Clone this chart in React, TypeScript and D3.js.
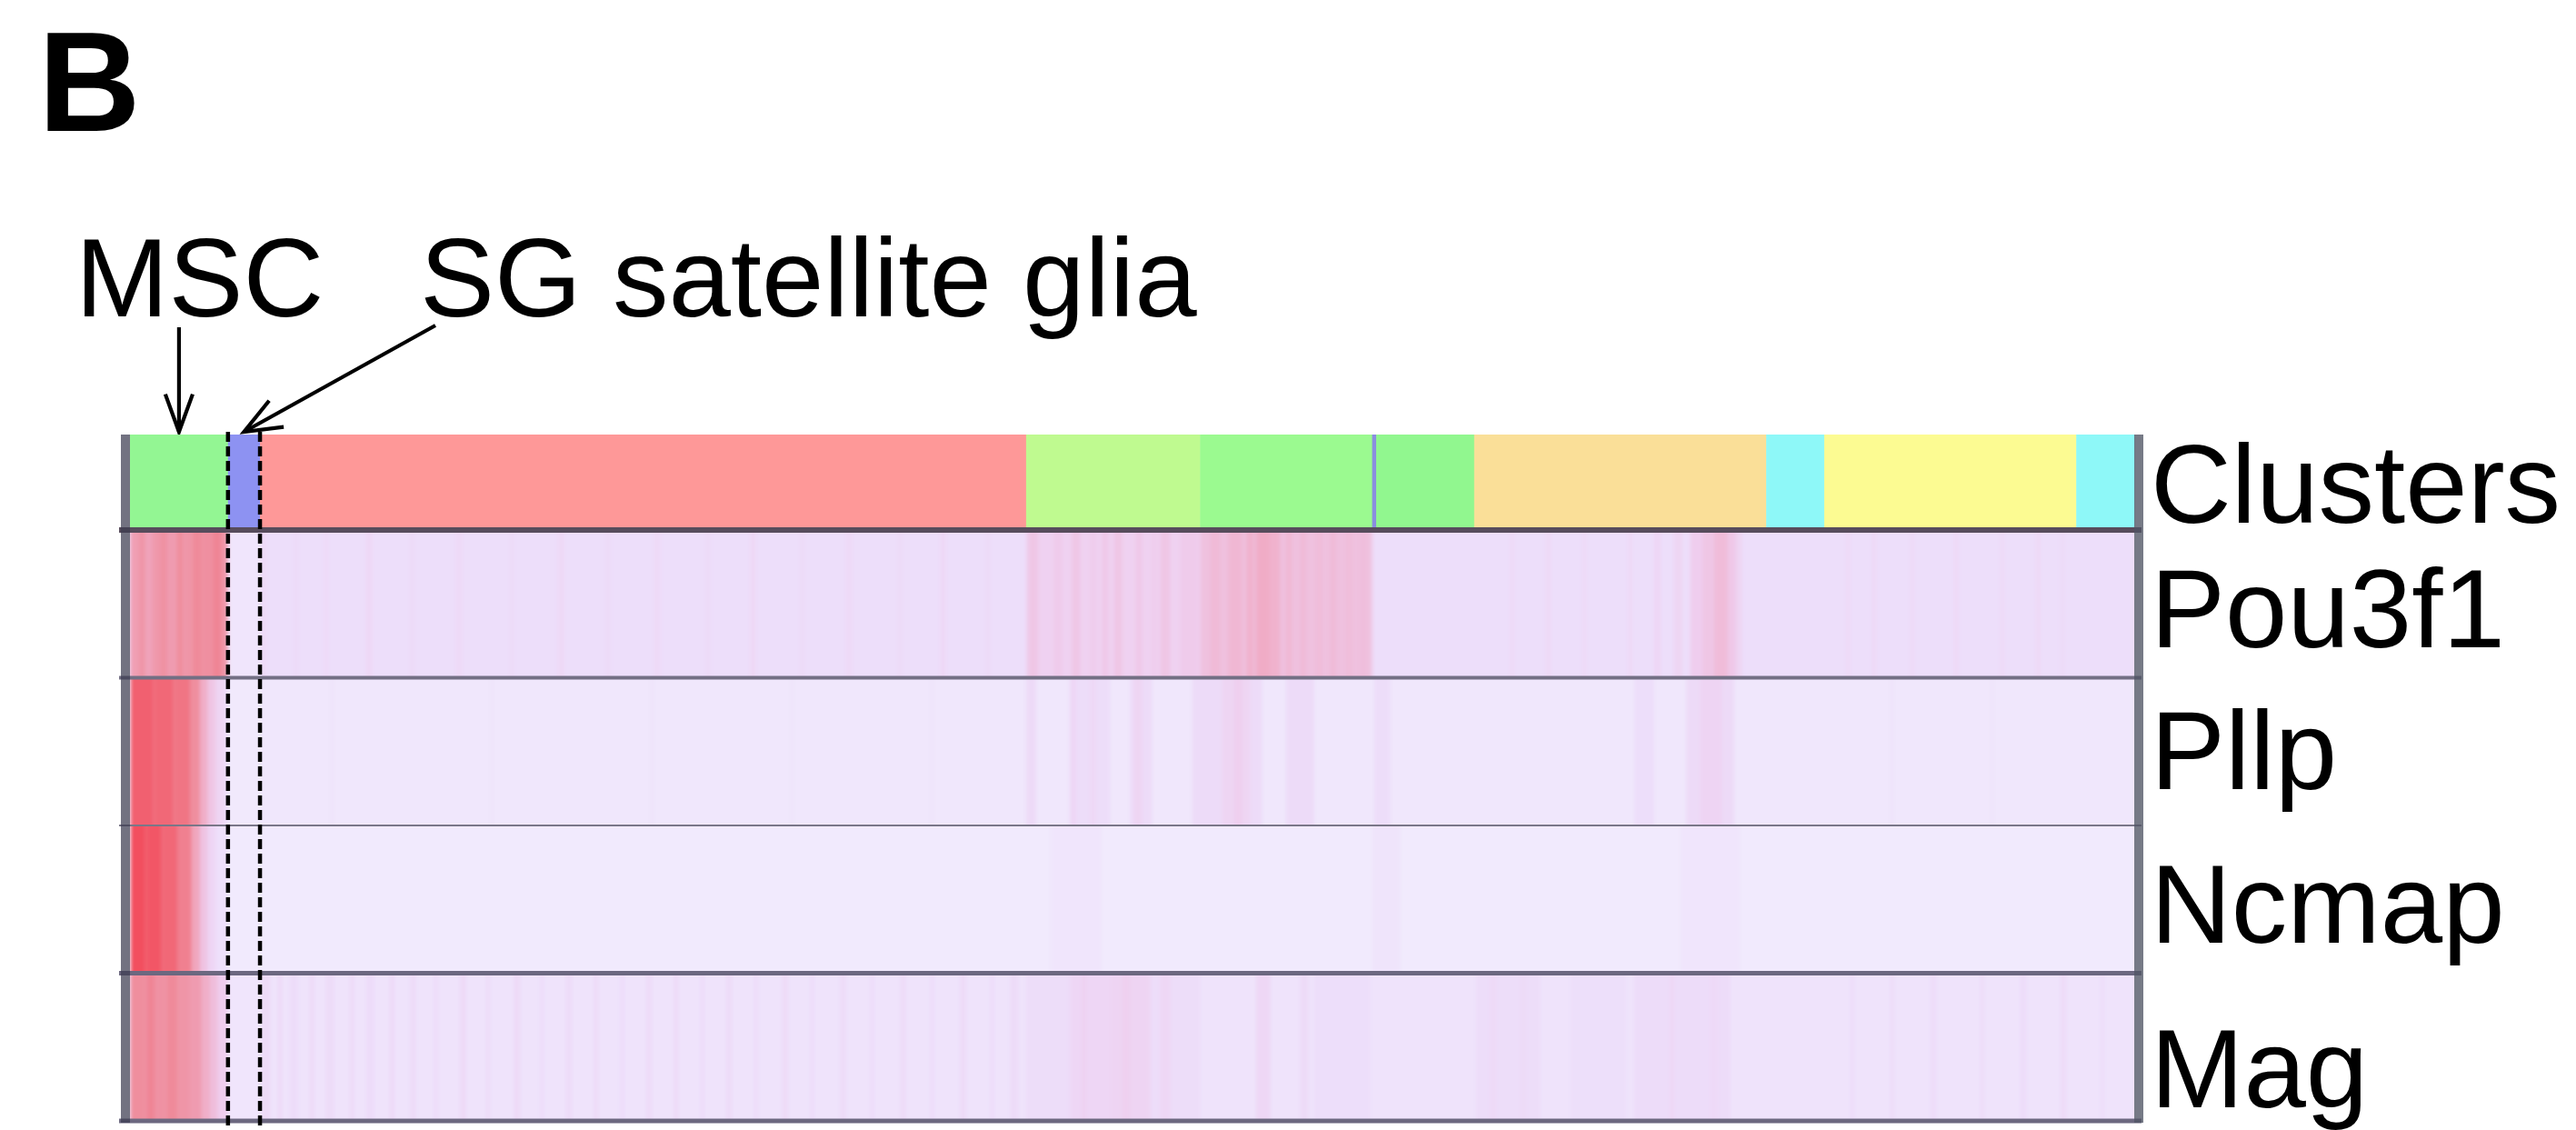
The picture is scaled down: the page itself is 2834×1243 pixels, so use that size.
import React, { useEffect } from 'react';
import * as d3 from 'd3';

// ---------- data ----------
const clusterNames = ['MSC', 'SG satellite glia', 'C3', 'C4', 'C5', 'C6', 'C7', 'C8', 'C9', 'C10', 'C11'];
const clusterSizes = [49, 16, 383, 87, 86, 2, 49, 146, 29, 126, 29];
const clusterColors = ['#93F693', '#8D92F2', '#FE9898', '#BFFA90', '#9BFA90', '#8A8EE0', '#91F78F', '#FADF98', '#8EF8F8', '#FCFB92', '#8EF8F8'];

const genes = ['Pou3f1', 'Pllp', 'Ncmap', 'Mag'];
const geneBase = [0.12, 0.04, 0.02, 0.08];

// [startCell, endCell, expression 0..1]
const pou3f1Bands: number[][] = [
  [0, 4, 0.64], [4, 8, 0.7], [8, 11, 0.62], [11, 15, 0.68], [15, 19, 0.72], [19, 23, 0.66], [23, 27, 0.74], [27, 31, 0.7], [31, 36, 0.76], [36, 41, 0.73], [41, 46, 0.78], [46, 49, 0.7],
  [49, 65, 0.06],
  [66, 68, 0.17], [82, 84, 0.16], [97, 99, 0.17], [118, 121, 0.18], [140, 142, 0.16], [163, 166, 0.17], [190, 192, 0.16], [214, 217, 0.18], [238, 240, 0.16], [262, 265, 0.17], [288, 290, 0.16], [310, 313, 0.18], [335, 337, 0.16], [358, 361, 0.17], [384, 386, 0.16], [405, 408, 0.18], [428, 430, 0.16],
  [448, 535, 0.26], [449, 454, 0.36], [462, 466, 0.32], [471, 475, 0.36], [480, 483, 0.31], [486, 489, 0.34], [492, 496, 0.36], [503, 506, 0.34], [511, 513, 0.31], [515, 520, 0.36], [525, 534, 0.32],
  [535, 621, 0.4], [540, 545, 0.45], [549, 556, 0.48], [558, 562, 0.52], [563, 570, 0.56], [570, 575, 0.52], [578, 581, 0.47], [585, 588, 0.45], [593, 596, 0.44], [600, 603, 0.45], [608, 611, 0.43], [615, 618, 0.42],
  [690, 692, 0.17], [708, 710, 0.18], [726, 728, 0.17], [749, 751, 0.18], [762, 765, 0.2], [772, 776, 0.22], [780, 786, 0.3], [786, 792, 0.36], [792, 799, 0.44], [799, 803, 0.34], [803, 806, 0.22],
  [858, 860, 0.17], [871, 873, 0.18], [890, 892, 0.17], [912, 914, 0.18], [935, 937, 0.17], [953, 955, 0.18], [965, 967, 0.16],
];
const pllpBands: number[][] = [
  [0, 12, 0.93], [12, 22, 0.9], [22, 30, 0.85], [30, 35, 0.74], [35, 39, 0.55], [39, 43, 0.36], [43, 47, 0.22], [47, 49, 0.14],
  [49, 65, 0.03],
  [100, 102, 0.08], [180, 182, 0.07], [260, 262, 0.08], [330, 332, 0.07], [400, 402, 0.08],
  [448, 453, 0.16], [470, 490, 0.13], [470, 473, 0.2], [480, 483, 0.18], [500, 511, 0.15], [502, 506, 0.22], [531, 566, 0.15], [546, 560, 0.22], [552, 556, 0.28], [578, 592, 0.15], [622, 630, 0.13],
  [752, 762, 0.12], [778, 802, 0.16], [785, 796, 0.23],
  [880, 882, 0.08], [930, 932, 0.08],
];
const ncmapBands: number[][] = [
  [0, 8, 1.0], [8, 16, 0.97], [16, 24, 0.9], [24, 31, 0.8], [31, 35, 0.6], [35, 39, 0.38], [39, 43, 0.2], [43, 49, 0.1],
  [460, 486, 0.06], [621, 635, 0.07], [775, 805, 0.06],
];
const magBands: number[][] = [
  [0, 8, 0.74], [8, 13, 0.78], [13, 18, 0.72], [18, 24, 0.76], [24, 30, 0.7], [30, 36, 0.66], [36, 40, 0.55], [40, 44, 0.42], [44, 49, 0.3],
  [49, 65, 0.06],
  [66, 70, 0.16], [74, 76, 0.17], [80, 84, 0.14], [90, 92, 0.18], [98, 102, 0.15], [110, 112, 0.17], [118, 122, 0.14], [130, 132, 0.18], [140, 143, 0.15], [152, 154, 0.14], [165, 168, 0.17], [178, 180, 0.15], [192, 195, 0.17], [205, 207, 0.14], [218, 221, 0.15], [232, 234, 0.17], [245, 247, 0.14], [258, 261, 0.15], [272, 274, 0.17], [285, 287, 0.14], [298, 301, 0.15], [312, 314, 0.14], [326, 329, 0.16], [340, 342, 0.14], [355, 358, 0.15], [370, 372, 0.14], [385, 388, 0.15], [400, 402, 0.14], [415, 418, 0.16], [430, 432, 0.14], [440, 444, 0.15],
  [448, 535, 0.13], [470, 490, 0.2], [490, 510, 0.23], [476, 478, 0.26], [496, 500, 0.27], [515, 520, 0.19], [563, 570, 0.19], [585, 589, 0.16], [592, 620, 0.12],
  [673, 705, 0.13], [680, 683, 0.17], [695, 698, 0.16], [720, 748, 0.11], [752, 800, 0.14], [770, 772, 0.19], [790, 794, 0.17],
  [860, 862, 0.14], [880, 882, 0.15], [900, 903, 0.14], [925, 927, 0.15], [945, 948, 0.14], [965, 968, 0.15],
  [985, 987, 0.13],
];
const geneBands = [pou3f1Bands, pllpBands, ncmapBands, magBands];

const rowLabels = ['Clusters', ...genes];
const labelDy = [0, 4, -3, 4, 22];

// ---------- layout ----------
const W = 2834, H = 1243;
const heatLeft = 143, heatRight = 2348;
const clusterTop = 478, clusterBottom = 583, heatBottom = 1233;
const FONT = "'Liberation Sans', Arial, Helvetica, sans-serif";

function arrowHead(tip: [number, number], tail: [number, number], len = 42, half = 22) {
  const ang = Math.atan2(tail[1] - tip[1], tail[0] - tip[0]);
  const h = (half * Math.PI) / 180;
  const p1 = [tip[0] + len * Math.cos(ang + h), tip[1] + len * Math.sin(ang + h)];
  const p2 = [tip[0] + len * Math.cos(ang - h), tip[1] + len * Math.sin(ang - h)];
  const path = d3.path();
  path.moveTo(p1[0], p1[1]);
  path.lineTo(tip[0], tip[1]);
  path.lineTo(p2[0], p2[1]);
  return path.toString();
}

export default function App() {
  useEffect(() => {
    document.body.style.margin = '0';
  }, []);

  const total = d3.sum(clusterSizes);
  const x = d3.scaleLinear().domain([0, total]).range([heatLeft, heatRight]);
  const starts = [0, ...Array.from(d3.cumsum(clusterSizes))];
  const yGene = d3.scaleBand<string>().domain(genes).range([clusterBottom, heatBottom]);

  const color = d3
    .scaleLinear<string>()
    .domain([0, 0.12, 0.3, 0.55, 0.75, 1])
    .range(['#F2ECFD', '#EDDEFA', '#EFCDEE', '#F0AEC8', '#EF8C9C', '#F2505F'])
    .interpolate(d3.interpolateRgb)
    .clamp(true);

  const bw = yGene.bandwidth();
  const rowTops = [clusterTop, ...genes.map((g) => yGene(g)!)];
  const rowHeights = [clusterBottom - clusterTop, ...genes.map(() => bw)];
  const sepY = [clusterBottom, ...genes.map((g) => yGene(g)! + bw)];
  const sepW = [6, 4, 2, 5, 5];
  const sepC = ['#574c5c', '#736f84', '#7a7788', '#6c6880', '#6c6880'];

  const mscCenter = x(starts[0] + clusterSizes[0] / 2);
  const sgCenter = x(starts[1] + clusterSizes[1] / 2);
  const sgLeft = x(starts[1]);
  const sgRight = x(starts[2]);

  const mscTail: [number, number] = [mscCenter, 360];
  const mscTip: [number, number] = [mscCenter, clusterTop - 3];
  const sgTail: [number, number] = [479, 358];
  const sgTip: [number, number] = [sgCenter, clusterTop - 3];

  return (
    <div style={{ position: 'absolute', left: 0, top: 0, width: W, height: H, overflow: 'hidden' }}>
      <svg width={W} height={H} viewBox={`0 0 ${W} ${H}`} style={{ display: 'block', background: '#fff' }}>
        <defs>
          <filter id="hblur" x="-0.01" y="0" width="1.02" height="1">
            <feGaussianBlur stdDeviation="2 0" />
          </filter>
          {genes.map((g) => (
            <clipPath key={g} id={`clip-${g}`}>
              <rect x={heatLeft} y={yGene(g)!} width={heatRight - heatLeft} height={bw} />
            </clipPath>
          ))}
        </defs>

        {/* panel letter */}
        <text x={42} y={144} fontFamily={FONT} fontWeight="bold" fontSize={156} fill="#000">B</text>

        {/* annotations */}
        <text x={83} y={348} fontFamily={FONT} fontSize={123} fill="#000">MSC</text>
        <text x={462} y={348} fontFamily={FONT} fontSize={123} fill="#000">SG satellite glia</text>
        <line x1={mscTail[0]} y1={mscTail[1]} x2={mscTip[0]} y2={mscTip[1]} stroke="#000" strokeWidth={4.2} />
        <path d={arrowHead(mscTip, mscTail, 44, 20)} fill="none" stroke="#000" strokeWidth={4.2} strokeLinejoin="miter" />
        <line x1={sgTail[0]} y1={sgTail[1]} x2={sgTip[0]} y2={sgTip[1]} stroke="#000" strokeWidth={4.2} />
        <path d={arrowHead(sgTip, sgTail, 44, 22)} fill="none" stroke="#000" strokeWidth={4.2} strokeLinejoin="miter" />

        {/* clusters row */}
        <g>
          {clusterSizes.map((s, i) => (
            <rect
              key={clusterNames[i]}
              x={x(starts[i])}
              y={clusterTop}
              width={x(starts[i] + s) - x(starts[i]) + 0.5}
              height={clusterBottom - clusterTop}
              fill={clusterColors[i]}
            />
          ))}
        </g>

        {/* gene rows */}
        {genes.map((g, gi) => (
          <g key={g} clipPath={`url(#clip-${g})`}>
            <g filter="url(#hblur)">
              <rect x={heatLeft - 10} y={yGene(g)!} width={heatRight - heatLeft + 20} height={bw} fill={color(geneBase[gi])} />
              {geneBands[gi].map((b, bi) => (
                <rect
                  key={bi}
                  x={x(b[0])}
                  y={yGene(g)!}
                  width={x(b[1]) - x(b[0])}
                  height={bw}
                  fill={color(b[2])}
                />
              ))}
            </g>
          </g>
        ))}

        {/* separators */}
        {sepY.map((y, i) => (
          <line key={i} x1={heatLeft - 12} x2={heatRight + 8} y1={y} y2={y} stroke={sepC[i]} strokeWidth={sepW[i]} />
        ))}

        {/* frame left/right */}
        <rect x={heatLeft - 10} y={clusterTop} width={10} height={heatBottom - clusterTop + 2} fill="rgb(60,60,80)" fillOpacity={0.72} />
        <rect x={heatRight} y={clusterTop} width={10} height={heatBottom - clusterTop + 2} fill="rgb(80,84,100)" fillOpacity={0.78} />

        {/* dashed SG boundaries */}
        {[sgLeft, sgRight].map((xx, i) => (
          <line key={i} x1={xx} x2={xx} y1={clusterTop - 3} y2={heatBottom + 8} stroke="#000" strokeWidth={4.5} strokeDasharray="11 5" />
        ))}

        {/* row labels */}
        {rowLabels.map((l, i) => (
          <text
            key={l}
            x={2366}
            y={rowTops[i] + rowHeights[i] / 2 + 44 + labelDy[i]}
            fontFamily={FONT}
            fontSize={123}
            fill="#000"
          >
            {l}
          </text>
        ))}
      </svg>
    </div>
  );
}
